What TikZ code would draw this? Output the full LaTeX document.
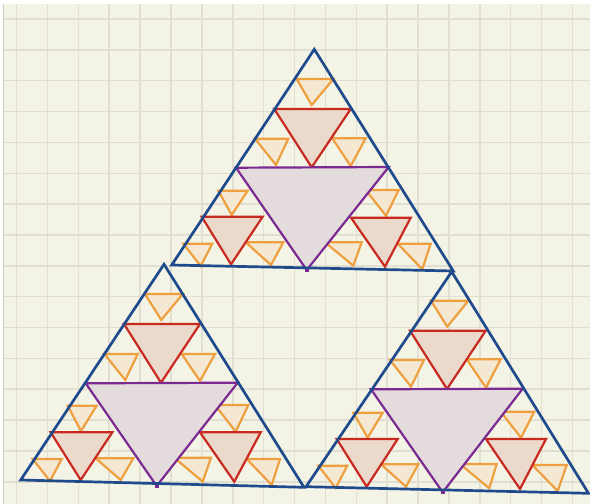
\documentclass[tikz,border=0pt]{standalone}
\usetikzlibrary{calc}
\definecolor{bg}{HTML}{F4F4E6}
\definecolor{gridc}{HTML}{E1DFD2}
\definecolor{bluec}{HTML}{1F4A8C}
\definecolor{purplec}{HTML}{7A2A90}
\definecolor{redc}{HTML}{C92A20}
\definecolor{orangec}{HTML}{EEA040}
\definecolor{purplefill}{HTML}{E4DBDD}
\definecolor{redfill}{HTML}{EBD9CC}
\definecolor{orangefill}{HTML}{F5E8D2}
\tikzset{
  bigtri/.style={draw=bluec, line width=2.7pt},
  midtri/.style={draw=purplec, fill=purplefill, line width=2.2pt},
  redtri/.style={draw=redc, fill=redfill, line width=2.2pt},
  ortri/.style={draw=orangec, fill=orangefill, line width=2.2pt},
}
\newcommand\tri[4]{\draw[#1] (#2) -- (#3) -- (#4) -- cycle;}
\begin{document}
\begin{tikzpicture}[x=1pt,y=-1pt]
\useasboundingbox (0,0) rectangle (590,504);
\fill[white] (0,0) rectangle (590,504);
\fill[bg] (3,4) rectangle (590,504);
\draw[gray!40, line width=1.2pt] (3.5,4) -- (3.5,504);
% grid
\foreach \i in {0,...,18} {\draw[gridc, line width=1.5pt] ({16.6+30.88*\i},4) -- ({16.6+30.88*\i},504);}
\foreach \j in {0,...,15} {\draw[gridc, line width=1.5pt] (4,{19+30.85*\j}) -- (590,{19+30.85*\j});}

% ===== top triangle =====
\tri{ortri}{296.7,79}{333.3,79}{311.7,105}
\tri{ortri}{255,138.7}{288.3,138.7}{276,165}
\tri{ortri}{332.3,138.3}{365.7,138.3}{350.7,166}
\tri{ortri}{218.3,190.7}{247.7,190.7}{231.7,215}
\tri{ortri}{183.3,243.7}{212.3,243.7}{200.7,266}
\tri{ortri}{245.7,242.3}{283.3,242.3}{271,265}
\tri{ortri}{365.7,190}{398.7,190}{386,215.7}
\tri{ortri}{325,242.3}{361.7,242.3}{353.3,265.7}
\tri{ortri}{397.7,243.7}{430.7,243.7}{422.3,269.3}
\tri{redtri}{274.3,109}{350.7,109}{311.7,167.3}
\tri{redtri}{201.7,216.7}{262.7,216.7}{231,264.3}
\tri{redtri}{351,217.7}{410.7,217.7}{385,266.7}
\tri{midtri}{236,167.7}{388.7,167}{306.7,270}
\tri{bigtri}{314.3,49.3}{453.3,271}{171.7,265}
\fill[purplec] (306.7,270) ++(-2,-1.5) rectangle ++(4,3);

% ===== bottom-left triangle =====
\tri{ortri}{145,294}{182.7,294}{161.3,320}
\tri{ortri}{104.3,354}{137.7,354}{125.3,380}
\tri{ortri}{181.7,354}{215,354}{200,381}
\tri{ortri}{67.7,405.7}{96.7,405.7}{81,431}
\tri{ortri}{32.7,459}{61.7,459}{50,481}
\tri{ortri}{95.7,458.3}{133.3,458.3}{120.7,480}
\tri{ortri}{215,405}{248.3,405}{235.7,431.7}
\tri{ortri}{174.3,457.7}{211,457.7}{202.7,481.7}
\tri{ortri}{246.7,459}{280,459}{271.7,485}
\tri{redtri}{124,324}{200,324}{161,382.7}
\tri{redtri}{50.7,432.3}{112.3,432.3}{80.7,480}
\tri{redtri}{200,432.3}{260.7,432.3}{234.3,481.7}
\tri{midtri}{85.7,383.3}{237.7,382.7}{156.7,486}
\tri{bigtri}{164,264.3}{304,487.3}{20.7,480}
\fill[purplec] (156.7,486) ++(-2,-1.5) rectangle ++(4,3);

% ===== bottom-right triangle =====
\tri{ortri}{431,300.7}{468.3,300.7}{447.3,326.7}
\tri{ortri}{390,360}{424,360}{411,386.7}
\tri{ortri}{466.7,359.3}{500.7,359.3}{486,387.7}
\tri{ortri}{353.3,412.7}{382.7,412.7}{367.7,437.7}
\tri{ortri}{318.3,465.7}{347.3,465.7}{335.7,488}
\tri{ortri}{381,464.3}{418.3,464.3}{406,486.7}
\tri{ortri}{500.7,411.7}{534.3,411.7}{521,437.7}
\tri{ortri}{460,464}{496.7,464}{489.3,488.3}
\tri{ortri}{532.3,465}{566.7,465}{557.7,491}
\tri{redtri}{410,330.7}{485.7,330.7}{447,389}
\tri{redtri}{336.7,439}{397.7,439}{366.7,486.7}
\tri{redtri}{486,439}{546,439}{520,489}
\tri{midtri}{371,389.3}{522.7,388.7}{442.7,492.3}
\tri{bigtri}{451.7,271.7}{588.5,493.3}{306,486.7}
\fill[purplec] (442.7,492.3) ++(-2,-1.5) rectangle ++(4,3);
\end{tikzpicture}
\end{document}
